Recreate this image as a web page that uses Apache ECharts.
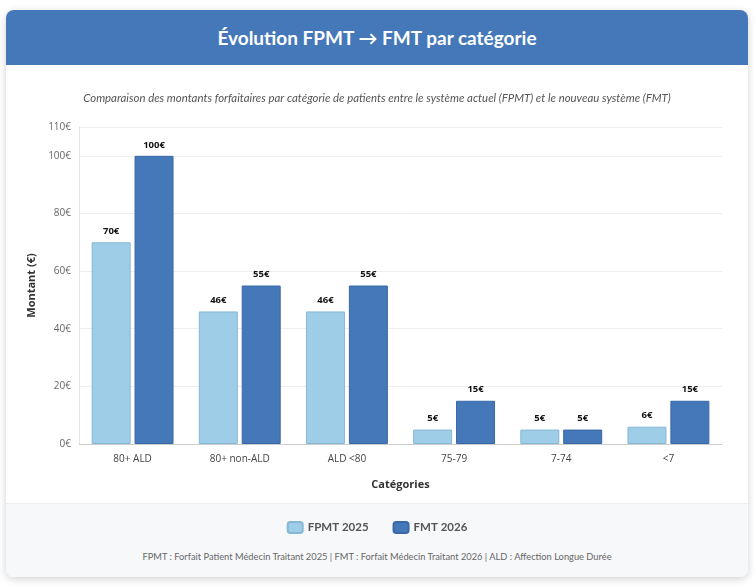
<!DOCTYPE html>
<html lang="fr">
<head>
    <meta charset="UTF-8"/>
    <title>Évolution FPMT → FMT par catégorie</title>
    <script src="https://cdn.jsdelivr.net/npm/echarts@6.0.0/dist/echarts.min.js"></script>
    <style>
        html, body { margin: 0; padding: 0; background: #ffffff; font-family: Lato, "Open Sans", sans-serif; }
        .card {
            position: absolute; left: 6px; top: 10px; width: 742px; height: 567px;
            border-radius: 8px; overflow: hidden; background: #fff;
            box-shadow: 0 2px 8px rgba(0,0,0,0.18);
        }
        .head {
            height: 55px; background: #4578b9; color: #fff;
            font-size: 19px; font-weight: 700; text-align: center; line-height: 56px;
        }
        .foot {
            position: absolute; left: 0; right: 0; top: 493px; bottom: 0;
            background: #f7f8fa; border-top: 1px solid #eceef1;
        }
        .note {
            position: absolute; left: 0; right: 0; top: 541px;
            text-align: center; font-size: 9.3px; color: #666;
        }
        #chart { position: absolute; left: 0; top: 55px; width: 742px; height: 512px; }
    </style>
</head>
<body>
<div class="card">
    <div class="head">Évolution FPMT → FMT par catégorie</div>
    <div class="foot"></div>
    <div class="note">FPMT : Forfait Patient Médecin Traitant 2025 | FMT : Forfait Médecin Traitant 2026 | ALD : Affection Longue Durée</div>
    <div id="chart"></div>
</div>
<script>
    const categories = ['80+ ALD', '80+ non-ALD', 'ALD <80', '75-79', '7-74', '<7'];
    const fpmt2025 = [70, 46, 46, 5, 5, 6];
    const fmt2026 = [100, 55, 55, 15, 5, 15];

    const chart = echarts.init(document.getElementById('chart'), null, { renderer: 'canvas' });
    const font = '"Open Sans", "Noto Sans", sans-serif';

    chart.setOption({
        backgroundColor: 'transparent',
        textStyle: { fontFamily: font },
        title: {
            text: 'Comparaison des montants forfaitaires par catégorie de patients entre le système actuel (FPMT) et le nouveau système (FMT)',
            left: 'center', top: 23,
            textStyle: { fontFamily: 'Lato', fontSize: 11.4, fontStyle: 'italic', fontWeight: 'normal', color: '#555' }
        },
        legend: {
            bottom: 38, left: 'center', itemWidth: 15, itemHeight: 11, itemGap: 24,
            icon: 'roundRect',
            textStyle: { fontFamily: 'Lato', fontSize: 11.5, fontWeight: 'bold', color: '#555' },
            data: ['FPMT 2025', 'FMT 2026']
        },
        grid: { left: 73, right: 26, top: 62, bottom: 133 },
        xAxis: {
            type: 'category', data: categories,
            name: 'Catégories', nameLocation: 'middle', nameGap: 35,
            nameTextStyle: { fontSize: 11, fontWeight: 'bold', color: '#333' },
            axisLine: { lineStyle: { color: '#ccc' } },
            axisTick: { show: false },
            axisLabel: { fontSize: 10, color: '#444', margin: 10 }
        },
        yAxis: {
            type: 'value', min: 0, max: 110, interval: 20,
            name: 'Montant (€)', nameLocation: 'middle', nameGap: 37,
            nameTextStyle: { fontSize: 11, fontWeight: 'bold', color: '#333' },
            axisLine: { show: true, lineStyle: { color: '#e3e3e3' } },
            axisTick: { show: false },
            axisLabel: { fontSize: 10, color: '#666', formatter: '{value}€' },
            splitLine: { lineStyle: { color: '#eeeeee' } }
        },
        series: [
            {
                name: 'FPMT 2025', type: 'bar', data: fpmt2025,
                barWidth: 39, barGap: '10%',
                itemStyle: { color: '#9ecde8', borderColor: '#86b8d6', borderWidth: 1 },
                label: { show: true, position: 'top', formatter: '{c}€', fontSize: 9.5, fontWeight: 'bold', color: '#111', distance: 6 }
            },
            {
                name: 'FMT 2026', type: 'bar', data: fmt2026,
                barWidth: 39,
                itemStyle: { color: '#4578b9', borderColor: '#3a68a6', borderWidth: 1 },
                label: { show: true, position: 'top', formatter: '{c}€', fontSize: 9.5, fontWeight: 'bold', color: '#111', distance: 6 }
            }
        ]
    });

    window.addEventListener('resize', () => chart.resize());
</script>
</body>
</html>
